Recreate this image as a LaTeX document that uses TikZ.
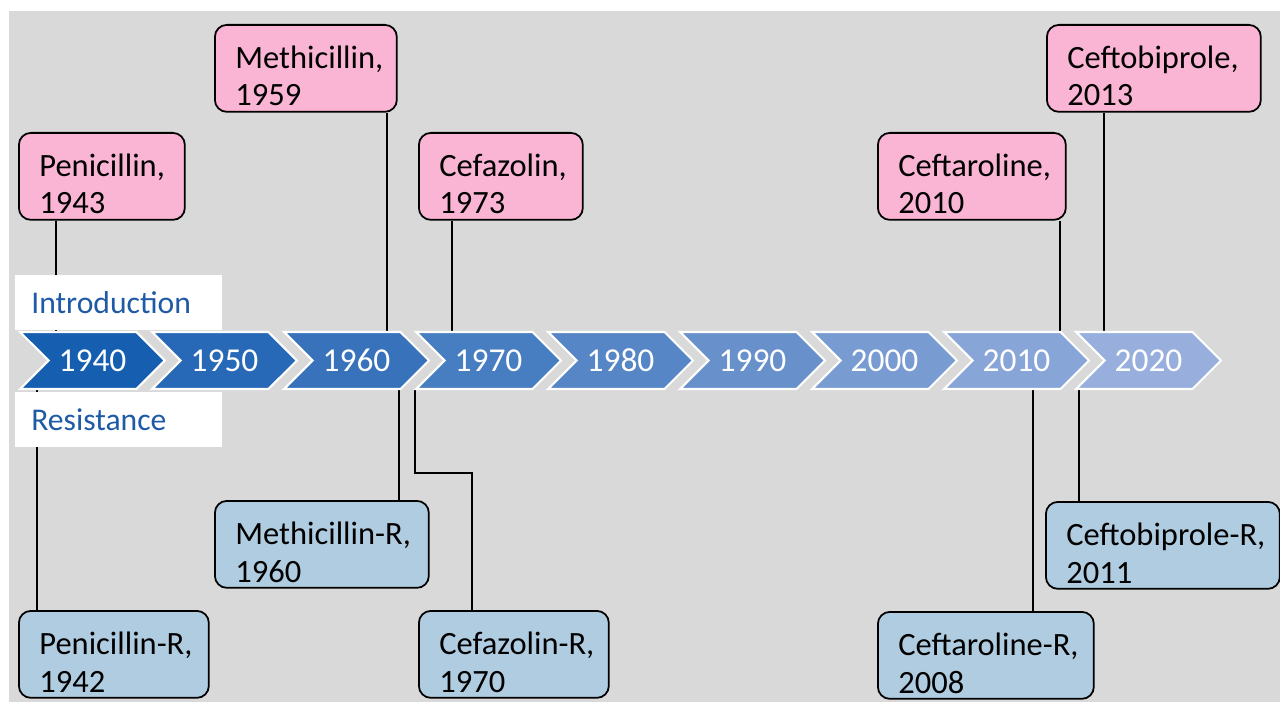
\documentclass[tikz,border=0pt]{standalone}
\usepackage{fontspec}
\setmainfont{Carlito}
\usepackage{xcolor}
\usepackage{tikz}
\usetikzlibrary{calc,positioning,shapes.symbols,backgrounds}
\definecolor{fondoGris}{RGB}{217,217,217}
\definecolor{rosaBg}{RGB}{250,181,212}
\definecolor{azulBg}{RGB}{176,204,224}
\definecolor{chevOsc}{RGB}{22,94,176}
\definecolor{chevCla}{RGB}{152,175,221}
\definecolor{azulTxt}{RGB}{30,90,165}

\begin{document}
\begin{tikzpicture}[x=0.02cm, y=-0.02cm,
  chev/.style={signal, signal to=east, signal from=west, draw=white,
    line width=1.2pt, minimum width=2.9cm, minimum height=1.14cm,
    inner sep=0pt, text=white, font=\fontsize{19}{22}\selectfont},
  caja/.style={draw=black, line width=1pt, rounded corners=0.24cm,
    minimum height=1.74cm, anchor=north west, inner sep=0pt},
  intro/.style={caja, fill=rosaBg},
  resist/.style={caja, fill=azulBg},
  txt/.style={anchor=base west, align=left, inner sep=0pt,
    font=\fontsize{18.5}{21.5}\selectfont},
  etiqueta/.style={fill=white, anchor=north west, minimum height=1.1cm,
    inner xsep=0.32cm, inner ysep=0pt, text width=3.5cm, align=left,
    text=azulTxt, font=\fontsize{18}{21}\selectfont},
  linea/.style={line width=1.1pt}]
  \useasboundingbox (0,0) rectangle (1280,702);
  % Background
  \begin{scope}[on background layer]
    \fill[white] (0,0) rectangle (1280,702);
    \fill[fondoGris] (9,11) rectangle (1280,702);
  \end{scope}
  % Timeline
  \foreach \yr [count=\i from 0] in {1940,1950,...,2020} {
    \pgfmathtruncatemacro\mezcla{100-12.5*\i}
    \node[chev, fill=chevOsc!\mezcla!chevCla] (y\yr) at ({92.5+132*\i},360.5) {\yr};
  }
  % Row labels
  \node[etiqueta] (lblIntro) at (15,275) {Introduction};
  \node[etiqueta] (lblRes) at (15,392) {Resistance};
  % Introduction boxes
  \node[intro, minimum width=3.32cm] (pen) at (18,132) {};
  \node[txt] (pen-t) at ($(pen.north west)+(21,82)$) {Penicillin,\\1943};
  \node[intro, minimum width=3.64cm] (meth) at (214,24) {};
  \node[txt] (meth-t) at ($(meth.north west)+(21,82)$) {Methicillin,\\1959};
  \node[intro, minimum width=3.28cm] (cefa) at (418,132) {};
  \node[txt] (cefa-t) at ($(cefa.north west)+(21,82)$) {Cefazolin,\\1973};
  \node[intro, minimum width=3.76cm] (ceft) at (877,132) {};
  \node[txt] (ceft-t) at ($(ceft.north west)+(21,82)$) {Ceftaroline,\\2010};
  \node[intro, minimum width=4.28cm] (ceftob) at (1046,24) {};
  \node[txt] (ceftob-t) at ($(ceftob.north west)+(21,82)$) {Ceftobiprole,\\2013};
  % Resistance boxes
  \node[resist, minimum width=3.80cm] (penR) at (18,610) {};
  \node[txt] (penR-t) at ($(penR.north west)+(21,82)$) {Penicillin-R,\\1942};
  \node[resist, minimum width=4.28cm] (methR) at (214,500) {};
  \node[txt] (methR-t) at ($(methR.north west)+(21,82)$) {Methicillin-R,\\1960};
  \node[resist, minimum width=3.80cm] (cefaR) at (418,610) {};
  \node[txt] (cefaR-t) at ($(cefaR.north west)+(21,82)$) {Cefazolin-R,\\1970};
  \node[resist, minimum width=4.32cm] (ceftR) at (877,611) {};
  \node[txt] (ceftR-t) at ($(ceftR.north west)+(21,82)$) {Ceftaroline-R,\\2008};
  \node[resist, minimum width=4.68cm] (ceftobR) at (1045,501) {};
  \node[txt] (ceftobR-t) at ($(ceftobR.north west)+(21,82)$) {Ceftobiprole-R,\\2011};
  % Connectors
  \begin{scope}[on background layer]
    \draw[linea] (pen.south -| 56,0) -- (y1940.north -| 56,0);
    \draw[linea] (meth.south -| 387,0) -- (y1960.north -| 387,0);
    \draw[linea] (cefa.south -| 452,0) -- (y1970.north -| 452,0);
    \draw[linea] (ceft.south -| 1060,0) -- (y2010.north -| 1060,0);
    \draw[linea] (ceftob.south -| 1104,0) -- (y2020.north -| 1104,0);
    \draw[linea] (y1940.south -| 37,0) -- (penR.north -| 37,0);
    \draw[linea] (y1960.south -| 399,0) -- (methR.north -| 399,0);
    \draw[linea] (y1970.south -| 415,0) -- (415,473) -| (cefaR.north -| 472,0);
    \draw[linea] (y2010.south -| 1033,0) -- (ceftR.north -| 1033,0);
    \draw[linea] (y2020.south -| 1079,0) -- (ceftobR.north -| 1079,0);
  \end{scope}
\end{tikzpicture}
\end{document}
